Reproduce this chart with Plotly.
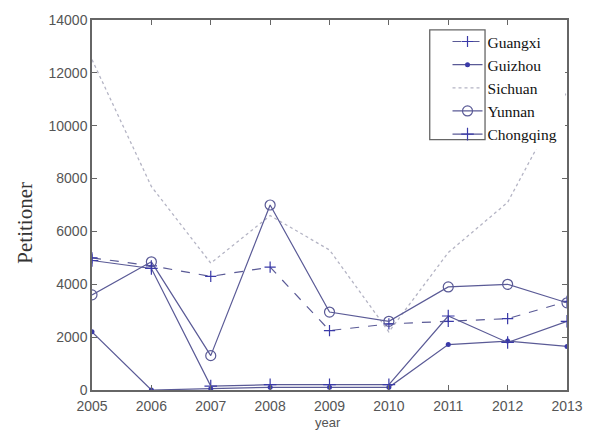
import plotly.graph_objects as go

years = [2005, 2006, 2007, 2008, 2009, 2010, 2011, 2012, 2013]
guangxi = [5000, 4700, 4300, 4650, 2250, 2500, 2600, 2700, 3350]
guizhou = [2200, 0, 50, 100, 100, 100, 1720, 1850, 1650]
sichuan = [12500, 7700, 4800, 6600, 5300, 2200, 5200, 7100, 11300]
yunnan = [3600, 4850, 1300, 7000, 2950, 2600, 3900, 4000, 3300]
chongqing = [4900, 4600, 150, 200, 200, 200, 2800, 1800, 2600]

y_ticks = [0, 2000, 4000, 6000, 8000, 10000, 12000, 14000]

LINE = "#5a5a96"
MARK = "#3a3aa8"

# plot-area geometry in pixels (for paper-coordinate conversion)
L, R, T, B = 92, 573, 16, 390
def px(x):
    return (x - L) / (R - L)
def py(y):
    return (B - y) / (B - T)

fig = go.Figure()
fig.add_trace(go.Scatter(x=years, y=guangxi, name="Guangxi", mode="lines+markers",
                         line=dict(color=LINE, width=1.2, dash="dash"),
                         marker=dict(symbol="cross-thin", size=8, line=dict(color=MARK, width=1.2))))
fig.add_trace(go.Scatter(x=years, y=guizhou, name="Guizhou", mode="lines+markers",
                         line=dict(color=LINE, width=1.2),
                         marker=dict(symbol="circle", size=5, color=MARK)))
fig.add_trace(go.Scatter(x=years, y=sichuan, name="Sichuan", mode="lines",
                         line=dict(color="#b4b4c4", width=1.3, dash="dot")))
fig.add_trace(go.Scatter(x=years, y=yunnan, name="Yunnan", mode="lines+markers",
                         line=dict(color=LINE, width=1.2),
                         marker=dict(symbol="circle-open", size=10, line=dict(color=MARK, width=1.2))))
fig.add_trace(go.Scatter(x=years, y=chongqing, name="Chongqing", mode="lines+markers",
                         line=dict(color=LINE, width=1.2),
                         marker=dict(symbol="cross-thin", size=9, line=dict(color=MARK, width=1.2))))

axis_common = dict(showline=True, linecolor="#666666", linewidth=1.5, mirror="ticks",
                   ticks="inside", ticklen=5, tickcolor="#666666", showgrid=False, zeroline=False,
                   tickfont=dict(family="Liberation Sans, Arial", size=14, color="#555555"))

fig.update_xaxes(range=[2005, 2013], tickvals=years, ticktext=[str(y) for y in years],
                 ticklabelstandoff=2, **axis_common)
fig.update_yaxes(range=[0, 14000], tickvals=y_ticks, ticktext=[str(v) for v in y_ticks],
                 **axis_common)

# axis titles placed as annotations
fig.add_annotation(text="year", xref="paper", yref="paper", x=px(331), y=py(423),
                   xanchor="center", yanchor="middle", showarrow=False,
                   font=dict(family="Liberation Sans, Arial", size=13, color="#555555"))
fig.add_annotation(text="Petitioner", xref="paper", yref="paper", x=px(24), y=py(221),
                   xanchor="center", yanchor="middle", showarrow=False, textangle=-90,
                   font=dict(family="Liberation Serif, Times New Roman", size=21, color="#333333"))

# legend box and white cover behind label text
fig.add_shape(type="rect", xref="paper", yref="paper", layer="above",
              x0=px(490), x1=px(571), y0=py(147), y1=py(26),
              fillcolor="white", line=dict(width=0))
fig.add_shape(type="rect", xref="paper", yref="paper", layer="above",
              x0=px(434), x1=px(490), y0=py(137), y1=py(26),
              fillcolor="white", line=dict(color="#666666", width=1.3))

fig.update_layout(
    width=595, height=430,
    margin=dict(l=L, r=595 - R, t=T, b=430 - B),
    paper_bgcolor="white", plot_bgcolor="white",
    showlegend=True,
    legend=dict(x=px(452), y=py(21), xanchor="left", yanchor="top",
                bgcolor="rgba(0,0,0,0)", borderwidth=0,
                font=dict(family="Liberation Serif, Times New Roman", size=15.5, color="#111111"),
                itemwidth=30),
)

fig.write_html("out.html")
